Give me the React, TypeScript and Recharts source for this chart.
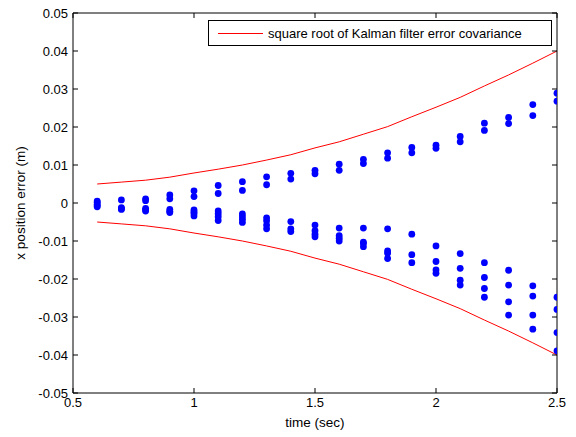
import {
  ComposedChart,
  Line,
  Scatter,
  XAxis,
  YAxis,
} from "recharts";

const times = [0.6, 0.7, 0.8, 0.9, 1.0, 1.1, 1.2, 1.3, 1.4, 1.5, 1.6, 1.7, 1.8, 1.9, 2.0, 2.1, 2.2, 2.3, 2.4, 2.5];

// square root of the Kalman filter error covariance
const sigma = [
  0.005, 0.0055, 0.006, 0.0068, 0.0079, 0.0089, 0.01, 0.0113, 0.0127, 0.0145,
  0.0161, 0.0181, 0.0201, 0.0227, 0.0252, 0.0278, 0.0308, 0.0337, 0.0368, 0.04,
];

// position errors of the individual runs, one list per time step
const errors = [
  [0.0005, 0.0002, -0.0003, -0.0007, -0.001],
  [0.0008, -0.0012, -0.0015, -0.0017],
  [0.0011, 0.0006, -0.0014, -0.0018, -0.0021],
  [0.0021, 0.0011, -0.0017, -0.0022, -0.0025],
  [0.0032, 0.0017, -0.0018, -0.0023, -0.0027, -0.0034],
  [0.0046, 0.0025, -0.0021, -0.0028, -0.0036, -0.0046],
  [0.0056, 0.0033, -0.0029, -0.0036, -0.0043, -0.0051],
  [0.0069, 0.0048, -0.0039, -0.0047, -0.0058, -0.0068],
  [0.0078, 0.0063, -0.0049, -0.0068, -0.0075],
  [0.0086, 0.0077, -0.0058, -0.0073, -0.0082, -0.0089],
  [0.0102, 0.0086, -0.0066, -0.0086, -0.0093, -0.01],
  [0.0115, 0.0104, -0.0066, -0.0103, -0.0106, -0.0115],
  [0.0132, 0.0118, -0.0068, -0.0126, -0.0132, -0.0146],
  [0.0146, 0.0132, -0.0082, -0.0136, -0.0157],
  [0.0152, 0.0144, -0.0113, -0.0154, -0.0176, -0.0185],
  [0.0175, 0.0161, -0.0133, -0.0172, -0.0203, -0.0216],
  [0.021, 0.0191, -0.0157, -0.0196, -0.0225, -0.0248],
  [0.0225, 0.0209, -0.0177, -0.0216, -0.026, -0.0295],
  [0.0259, 0.023, -0.0218, -0.0245, -0.0295, -0.0332],
  [0.0289, 0.0268, -0.0248, -0.028, -0.0341, -0.0389],
];

const xTicks = [0.5, 1, 1.5, 2, 2.5];
const yTicks = [-0.05, -0.04, -0.03, -0.02, -0.01, 0, 0.01, 0.02, 0.03, 0.04, 0.05];

const upper = times.map((t, i) => ({ t, v: sigma[i] }));
const lower = times.map((t, i) => ({ t, v: -sigma[i] }));
const dots = times.flatMap((t, i) => errors[i].map((v) => ({ t, v })));

const fmtY = (v: number) => (Math.abs(v) < 1e-9 ? "0" : v.toFixed(2));
const tickStyle = { fontSize: 13, fill: "#000" };
const tickLine = { stroke: "#000", strokeWidth: 1 };

const Dot = (props: any) => <circle cx={props.cx} cy={props.cy} r={3.4} fill="#0000ff" />;

export default function App() {
  return (
    <div
      style={{
        position: "absolute",
        left: 0,
        top: 0,
        width: 576,
        height: 437,
        background: "#fff",
        fontFamily: "'Liberation Sans', Arial, sans-serif",
      }}
    >
      <ComposedChart width={576} height={437} margin={{ top: 12, right: 18, bottom: 0, left: 13 }}>
        <XAxis
          xAxisId="b"
          type="number"
          dataKey="t"
          domain={[0.5, 2.5]}
          ticks={xTicks}
          allowDataOverflow
          height={44}
          stroke="#000"
          tickLine={tickLine}
          tickSize={-5}
          tickMargin={10}
          tick={tickStyle}
          tickFormatter={(v) => String(v)}
        />
        <XAxis
          xAxisId="t"
          orientation="top"
          type="number"
          dataKey="t"
          domain={[0.5, 2.5]}
          ticks={xTicks}
          allowDataOverflow
          height={1}
          stroke="#000"
          tickLine={tickLine}
          tickSize={-5}
          tick={tickStyle}
          tickFormatter={() => ""}
        />
        <YAxis
          yAxisId="l"
          type="number"
          domain={[-0.05, 0.05]}
          ticks={yTicks}
          allowDataOverflow
          width={60}
          stroke="#000"
          tickLine={tickLine}
          tickSize={-5}
          tickMargin={10}
          tick={tickStyle}
          tickFormatter={fmtY}
        />
        <YAxis
          yAxisId="r"
          orientation="right"
          type="number"
          domain={[-0.05, 0.05]}
          ticks={yTicks}
          allowDataOverflow
          width={1}
          stroke="#000"
          tickLine={tickLine}
          tickSize={-5}
          tick={tickStyle}
          tickFormatter={() => ""}
        />
        {/* invisible copy so the box axes on top and right are drawn */}
        <Line
          xAxisId="t"
          yAxisId="r"
          data={upper}
          dataKey="v"
          stroke="none"
          dot={false}
          isAnimationActive={false}
        />
        <Line
          xAxisId="b"
          yAxisId="l"
          data={upper}
          dataKey="v"
          type="linear"
          stroke="#ff0000"
          strokeWidth={1}
          dot={false}
          isAnimationActive={false}
        />
        <Line
          xAxisId="b"
          yAxisId="l"
          data={lower}
          dataKey="v"
          type="linear"
          stroke="#ff0000"
          strokeWidth={1}
          dot={false}
          isAnimationActive={false}
        />
        <Scatter
          xAxisId="b"
          yAxisId="l"
          data={dots}
          dataKey="v"
          shape={Dot}
          isAnimationActive={false}
        />
      </ComposedChart>
      <div
        style={{
          position: "absolute",
          left: 208,
          top: 20,
          width: 342,
          height: 24,
          border: "1px solid #000",
          background: "#fff",
          display: "flex",
          alignItems: "center",
          fontSize: 13,
        }}
      >
        <div style={{ marginLeft: 9, width: 45, height: 0, borderTop: "1px solid #ff0000" }} />
        <span style={{ marginLeft: 5, whiteSpace: "nowrap" }}>square root of Kalman filter error covariance</span>
      </div>
      <div
        style={{
          position: "absolute",
          left: 0,
          top: 415,
          width: 630,
          textAlign: "center",
          fontSize: 13.5,
        }}
      >
        time (sec)
      </div>
      <div
        style={{
          position: "absolute",
          left: 20,
          top: 203,
          transform: "translate(-50%, -50%) rotate(-90deg)",
          fontSize: 13.5,
          whiteSpace: "nowrap",
        }}
      >
        x position error (m)
      </div>
    </div>
  );
}
